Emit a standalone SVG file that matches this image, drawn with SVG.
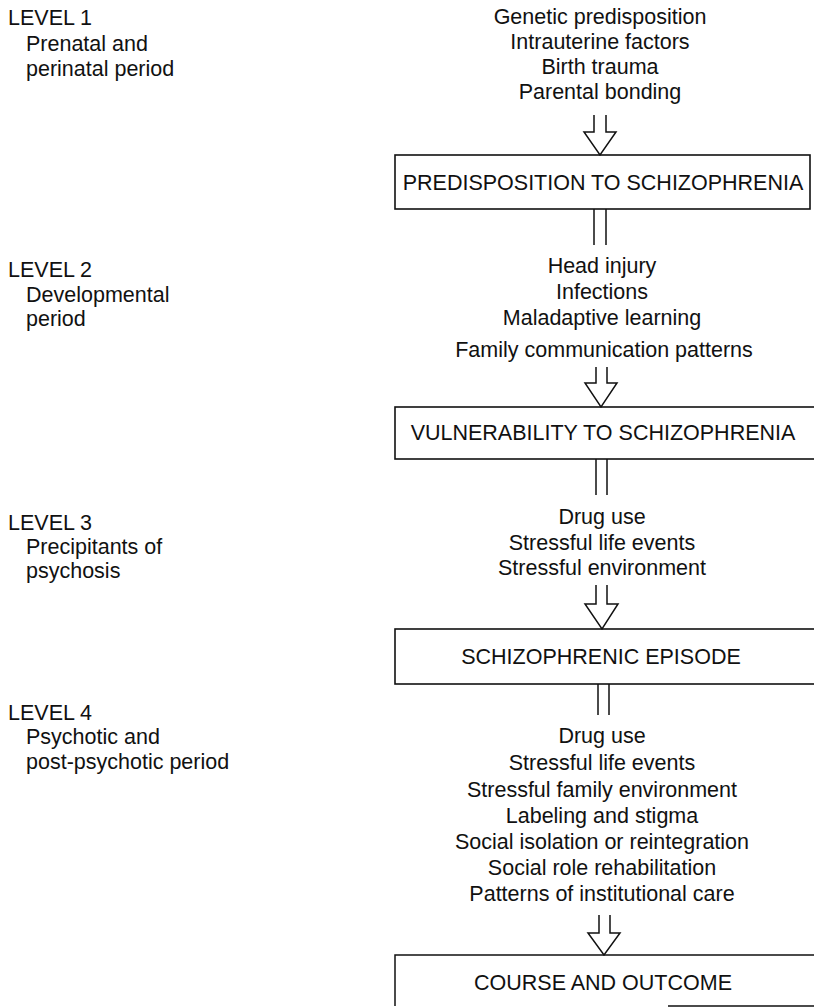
<svg xmlns="http://www.w3.org/2000/svg" width="814" height="1008" viewBox="0 0 814 1008">
<style>
text{font-family:"Liberation Sans",Arial,sans-serif;font-size:21.5px;fill:#111}
.c{text-anchor:middle}
.box{fill:#fff;stroke:#111;stroke-width:1.6}
.ln{fill:none;stroke:#111;stroke-width:1.5}
</style>
<rect width="814" height="1008" fill="#fff"/>
<g id="labels">
<g id="level1"><text x="8" y="25">LEVEL 1</text><text x="26" y="51">Prenatal and</text><text x="26" y="76">perinatal period</text></g>
<g id="level2"><text x="8" y="277">LEVEL 2</text><text x="26" y="302">Developmental</text><text x="26" y="326">period</text></g>
<g id="level3"><text x="8" y="530">LEVEL 3</text><text x="26" y="554">Precipitants of</text><text x="26" y="578">psychosis</text></g>
<g id="level4"><text x="8" y="720">LEVEL 4</text><text x="26" y="744">Psychotic and</text><text x="26" y="769">post-psychotic period</text></g>
</g>
<g id="factors1" class="c"><text class="c" x="600" y="24">Genetic predisposition</text><text class="c" x="600" y="49">Intrauterine factors</text><text class="c" x="600" y="74">Birth trauma</text><text class="c" x="600" y="99">Parental bonding</text></g>
<g id="box1"><rect class="box" x="395" y="155" width="415" height="54"/><text class="c" x="603" y="190">PREDISPOSITION TO SCHIZOPHRENIA</text></g>
<g id="factors2"><text class="c" x="602" y="273">Head injury</text><text class="c" x="602" y="299">Infections</text><text class="c" x="602" y="325">Maladaptive learning</text><text class="c" x="604" y="357">Family communication patterns</text></g>
<g id="box2"><rect class="box" x="395" y="407" width="425" height="52"/><text class="c" x="603" y="440">VULNERABILITY TO SCHIZOPHRENIA</text></g>
<g id="factors3"><text class="c" x="602" y="524">Drug use</text><text class="c" x="602" y="550">Stressful life events</text><text class="c" x="602" y="575">Stressful environment</text></g>
<g id="box3"><rect class="box" x="395" y="629" width="425" height="55"/><text class="c" x="601" y="664">SCHIZOPHRENIC EPISODE</text></g>
<g id="factors4"><text class="c" x="602" y="743">Drug use</text><text class="c" x="602" y="770">Stressful life events</text><text class="c" x="602" y="797">Stressful family environment</text><text class="c" x="602" y="823">Labeling and stigma</text><text class="c" x="602" y="849">Social isolation or reintegration</text><text class="c" x="602" y="875">Social role rehabilitation</text><text class="c" x="602" y="901">Patterns of institutional care</text></g>
<g id="box4"><path class="ln" d="M820 955 H395 V1006 M668 1006 H820"/><text class="c" x="603" y="990">COURSE AND OUTCOME</text></g>
<g id="connectors" class="ln">
<path class="ln" d="M594 115 V132 H584 L600 155 L616 132 H606 V115"/>
<path class="ln" d="M594 209 V245 M606 209 V245"/>
<path class="ln" d="M596 367 V383 H585 L601 407 L617 383 H607 V367"/>
<path class="ln" d="M596 459 V495 M607 459 V495"/>
<path class="ln" d="M596 585 V604 H585 L602 629 L618 604 H607 V585"/>
<path class="ln" d="M598 684 V715 M609 684 V715"/>
<path class="ln" d="M599 915 V933 H588 L604 955 L620 933 H610 V915"/>
</g>
</svg>
